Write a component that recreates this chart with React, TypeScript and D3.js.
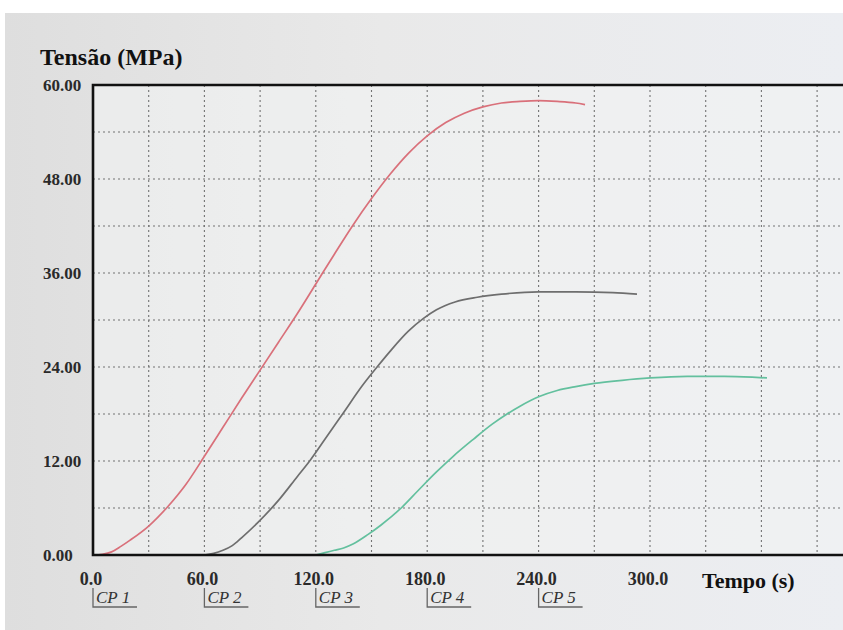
import React from 'react';
import * as d3 from 'd3';

// tensão x tempo
const cp1Time = [0, 5, 10, 15, 20, 30, 40, 50, 60, 70, 80, 90, 100, 110, 120, 130, 140, 150, 160, 170, 180, 190, 200, 210, 220, 230, 240, 250, 260, 265];
const cp1Stress = [0, 0.1, 0.4, 1.1, 1.9, 3.7, 6.1, 9.0, 12.6, 16.3, 20.0, 23.6, 27.2, 30.8, 34.6, 38.4, 42.1, 45.5, 48.6, 51.3, 53.5, 55.2, 56.4, 57.2, 57.7, 57.9, 58.0, 57.9, 57.7, 57.5];

const cp2Time = [60, 65, 70, 75, 80, 89, 100, 110, 117, 125, 135, 145, 153, 160, 170, 178, 185, 195, 207, 220, 240, 260, 280, 293];
const cp2Stress = [0, 0.2, 0.6, 1.2, 2.2, 4.2, 7.0, 10.0, 12.1, 14.8, 18.2, 21.6, 24.0, 26.0, 28.6, 30.2, 31.3, 32.3, 32.9, 33.3, 33.6, 33.6, 33.5, 33.3];

const cp3Time = [120, 125, 130, 135, 140, 148, 155, 166, 175, 185, 194, 205, 215, 223, 230, 240, 250, 260, 270, 285, 300, 320, 340, 355, 363];
const cp3Stress = [0, 0.3, 0.6, 0.9, 1.4, 2.6, 3.8, 6.0, 8.2, 10.6, 12.6, 14.8, 16.7, 18.0, 19.0, 20.2, 21.0, 21.5, 21.9, 22.3, 22.6, 22.8, 22.8, 22.7, 22.6];

const yTicks = [0, 12, 24, 36, 48, 60];
const xTicks = [0, 60, 120, 180, 240, 300];
const cpLabels = ['CP 1', 'CP 2', 'CP 3', 'CP 4', 'CP 5'];
const cpStart = [0, 60, 120, 180, 240];

const series = [
  { name: 'CP 1', t: cp1Time, v: cp1Stress, color: '#d9707a' },
  { name: 'CP 2', t: cp2Time, v: cp2Stress, color: '#6e6e6e' },
  { name: 'CP 3', t: cp3Time, v: cp3Stress, color: '#63c09e' },
];

const W = 843;
const H = 630;
const serif = '"Liberation Serif", "DejaVu Serif", serif';

export default function App() {
  const svgRef = React.useRef<SVGSVGElement>(null);

  React.useEffect(() => {
    const svg = d3.select(svgRef.current);
    svg.selectAll('*').remove();

    const x = d3.scaleLinear().domain([0, 300]).range([93, 650]);
    const y = d3.scaleLinear().domain([0, 60]).range([555, 85]);
    const right = W + 5;

    const defs = svg.append('defs');
    const grad = defs.append('linearGradient').attr('id', 'paper').attr('x1', 0).attr('x2', 1).attr('y1', 0).attr('y2', 0);
    grad.append('stop').attr('offset', '0%').attr('stop-color', '#dedede');
    grad.append('stop').attr('offset', '45%').attr('stop-color', '#e9e9e9');
    grad.append('stop').attr('offset', '100%').attr('stop-color', '#eceef2');

    svg.append('rect').attr('width', W).attr('height', H).attr('fill', '#ffffff');
    svg.append('rect').attr('x', 5).attr('y', 13).attr('width', W - 5).attr('height', H - 13).attr('fill', 'url(#paper)');
    svg.append('rect').attr('x', x(0)).attr('y', y(60)).attr('width', right - x(0)).attr('height', y(0) - y(60))
      .attr('fill', '#f2f3f4').attr('opacity', 0.6);

    // grid, dotted
    const grid = svg.append('g').attr('stroke', '#4a4a4a').attr('stroke-width', 1.1)
      .attr('stroke-dasharray', '2,3').attr('opacity', 0.75);
    const vLines = d3.range(30, 420, 30).filter(t => x(t) < right);
    grid.selectAll('.vg').data(vLines).join('line').attr('class', 'vg')
      .attr('x1', d => x(d)).attr('x2', d => x(d)).attr('y1', y(60)).attr('y2', y(0));
    grid.selectAll('.hg').data(d3.range(6, 60, 6)).join('line').attr('class', 'hg')
      .attr('x1', x(0)).attr('x2', right).attr('y1', d => y(d)).attr('y2', d => y(d));

    // curves
    const line = d3.line<[number, number]>().x(d => x(d[0])).y(d => y(d[1])).curve(d3.curveMonotoneX);
    svg.selectAll('.curve').data(series).join('path').attr('class', 'curve')
      .attr('d', s => line(s.t.map((t, i) => [t, s.v[i]] as [number, number])))
      .attr('fill', 'none').attr('stroke', s => s.color).attr('stroke-width', 1.7)
      .attr('stroke-linejoin', 'round');

    // frame
    const frame = svg.append('g').attr('stroke', '#111').attr('stroke-width', 2.6).attr('fill', 'none');
    frame.append('path').attr('d', `M${right},${y(60)}H${x(0)}V${y(0)}H${right}`);

    // y tick labels
    svg.selectAll('.yl').data(yTicks).join('text').attr('class', 'yl')
      .attr('x', 43).attr('y', d => y(d)).attr('dy', '0.35em')
      .attr('font-family', serif).attr('font-size', 17).attr('font-weight', 'bold').attr('fill', '#2a2a2a')
      .text(d => d.toFixed(2));

    // x tick labels
    svg.selectAll('.xl').data(xTicks).join('text').attr('class', 'xl')
      .attr('x', d => x(d) - 2).attr('y', 585).attr('text-anchor', 'middle')
      .attr('font-family', serif).attr('font-size', 18).attr('font-weight', 'bold').attr('fill', '#2a2a2a')
      .text(d => d.toFixed(1));

    // CP markers
    const cp = svg.selectAll('.cp').data(cpLabels).join('g').attr('class', 'cp')
      .attr('transform', (d, i) => `translate(${x(cpStart[i])},0)`);
    cp.append('path').attr('d', 'M0,588V607H44').attr('fill', 'none').attr('stroke', '#666').attr('stroke-width', 1.3);
    cp.append('text').attr('x', 3).attr('y', 603)
      .attr('font-family', serif).attr('font-size', 17).attr('font-style', 'italic').attr('fill', '#333')
      .text(d => d);

    // titles
    svg.append('text').attr('x', 40).attr('y', 65)
      .attr('font-family', serif).attr('font-size', 24).attr('font-weight', 'bold').attr('fill', '#111')
      .text('Tensão (MPa)');
    svg.append('text').attr('x', 702).attr('y', 588)
      .attr('font-family', serif).attr('font-size', 22).attr('font-weight', 'bold').attr('fill', '#111')
      .text('Tempo (s)');
  }, []);

  return (
    <svg ref={svgRef} width={W} height={H} style={{ position: 'absolute', left: 0, top: 0 }}></svg>
  );
}
